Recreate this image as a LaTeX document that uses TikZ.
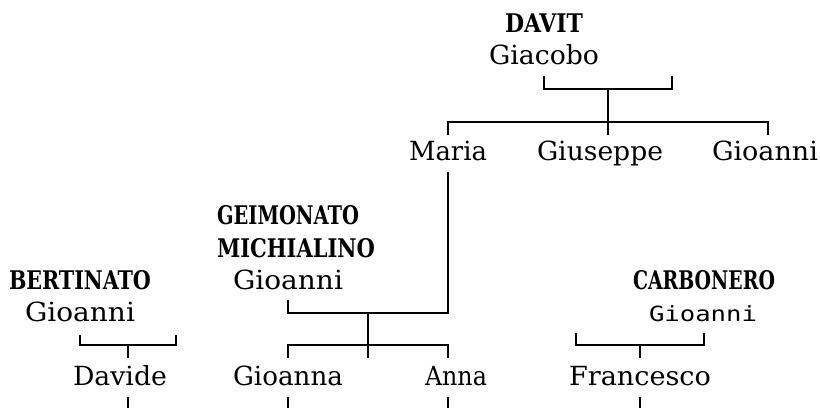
\documentclass[tikz,border=0pt]{standalone}
\usepackage{fontspec}
\usepackage{graphicx}
\setmainfont{DejaVu Serif}
\newfontfamily\capfont{DejaVu Serif Condensed}
\newfontfamily\sansmono{DejaVu Sans Mono}
\newcommand\capw[2]{\resizebox{\dimexpr 0.32cm*#1 - 0.04cm\relax}{\height}{\capfont\bfseries #2}}
\newcommand\lw[2]{\resizebox{\dimexpr 0.32cm*#1 - 0.04cm\relax}{\height}{#2}}
\begin{document}
\begin{tikzpicture}[x=0.02cm,y=-0.02cm,
  lbl/.style={anchor=base west, inner sep=0pt, outer sep=0pt, font=\fontsize{15pt}{18pt}\selectfont},
  caplbl/.style={lbl, font=\fontsize{14.6pt}{17pt}\selectfont},
  snslbl/.style={lbl, font=\fontsize{11.9pt}{14pt}\sansmono},
  link/.style={line width=1.1pt, line cap=butt, line join=miter}]
\useasboundingbox (0,0) rectangle (820,408);
% names
\node[caplbl] (davit) at (505,33) {\capw{5}{DAVIT}};
\node[lbl] (giacobo) at (489,65) {\lw{7}{Giacobo}};
\node[lbl] (maria) at (409,161) {\lw{5}{Maria}};
\node[lbl] (giuseppe) at (537,161) {\lw{8}{Giuseppe}};
\node[lbl] (gioanniA) at (712,161) {\resizebox{2.12cm}{\height}{Gioanni}};
\node[caplbl] (geimonato) at (217,225) {\capw{9}{GEIMONATO}};
\node[caplbl] (michialino) at (217,257) {\capw{10}{MICHIALINO}};
\node[caplbl] (bertinato) at (9,289) {\capw{9}{BERTINATO}};
\node[lbl] (gioanniG) at (233,289) {\lw{7}{Gioanni}};
\node[caplbl] (carbonero) at (633,289) {\capw{9}{CARBONERO}};
\node[lbl] (gioanniB) at (25,321) {\lw{7}{Gioanni}};
\node[snslbl] (gioanniC) at (649,321) {\resizebox{2.16cm}{\height}{Gioanni}};
\node[lbl] (davide) at (73,385) {\lw{6}{Davide}};
\node[lbl] (gioanna) at (233,385) {\lw{7}{Gioanna}};
\node[lbl] (anna) at (425,385) {\lw{4}{Anna}};
\node[lbl] (francesco) at (569,385) {\lw{9}{Francesco}};
% joints
\coordinate (d1) at (544,76); \coordinate (d2) at (672,76);
\coordinate (dm) at (608,89); \coordinate (dx) at (608,122); \coordinate (dt) at (608,135);
\coordinate (c1e) at (448,135); \coordinate (c2e) at (768,135);
\coordinate (mtop) at (448,172); \coordinate (mcor) at (448,313);
\coordinate (g1) at (288,300); \coordinate (gm) at (368,313); \coordinate (gx) at (368,345); \coordinate (gt) at (368,358);
\coordinate (k1e) at (288,358); \coordinate (k2e) at (448,358);
\coordinate (b1) at (80,335); \coordinate (b2) at (176,335); \coordinate (bm) at (128,345); \coordinate (bt) at (128,358);
\coordinate (r1) at (576,333); \coordinate (r2) at (704,333); \coordinate (rm) at (640,345); \coordinate (rt) at (640,358);
\coordinate (s1) at (128,397); \coordinate (s1e) at (128,408);
\coordinate (s2) at (288,397); \coordinate (s2e) at (288,408);
\coordinate (s3) at (448,397); \coordinate (s3e) at (448,408);
\coordinate (s4) at (640,397); \coordinate (s4e) at (640,408);
% DAVIT family
\draw[link] (d1) |- (dm) -| (d2);
\draw[link] (dm) -- (dt);
\draw[link] (c1e) |- (dx) -| (c2e);
% Maria + GEIMONATO
\draw[link] (mtop) -- (mcor) -| (g1);
\draw[link] (gm) -- (gt);
\draw[link] (k1e) |- (gx) -| (k2e);
% BERTINATO
\draw[link] (b1) |- (bm) -| (b2);
\draw[link] (bm) -- (bt);
% CARBONERO
\draw[link] (r1) |- (rm) -| (r2);
\draw[link] (rm) -- (rt);
% bottom stubs
\draw[link] (s1) -- (s1e);
\draw[link] (s2) -- (s2e);
\draw[link] (s3) -- (s3e);
\draw[link] (s4) -- (s4e);
\end{tikzpicture}
\end{document}
